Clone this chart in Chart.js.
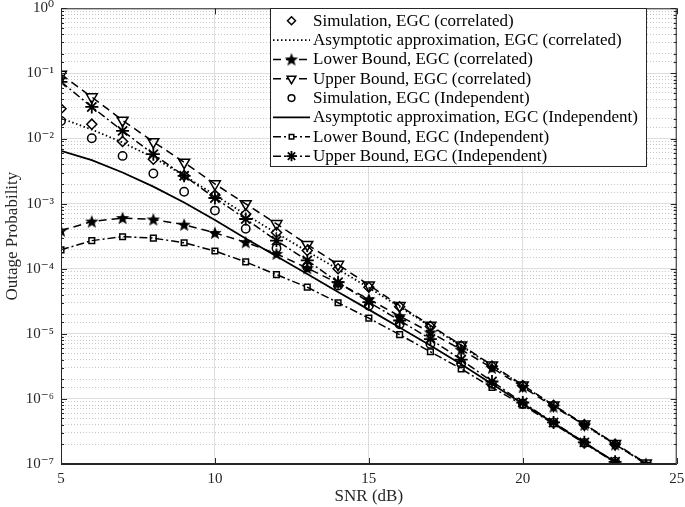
<!DOCTYPE html>
<html>
<head>
<meta charset="utf-8">
<title>Outage Probability vs SNR</title>
<script src="https://cdn.jsdelivr.net/npm/chart.js@4.4.1/dist/chart.umd.min.js"></script>
<style>
    html, body { margin: 0; padding: 0; background: #fff; }
    #wrap { width: 685px; height: 507px; }
</style>
</head>
<body>
<div id="wrap"><canvas id="outageChart" width="685" height="507"></canvas></div>
<script>
/* DATA */
var snr = [5, 6, 7, 8, 9, 10, 11, 12, 13, 14, 15, 16, 17, 18, 19, 20, 21, 22, 23, 24];

var simCorr   = [2.87e-2, 1.66e-2, 9.0e-3, 4.8e-3, 2.7e-3, 1.35e-3, 6.9e-4, 3.6e-4, 1.9e-4, 1.0e-4, 5.2e-5, 2.6e-5, 1.3e-5, 6.5e-6, 3.2e-6, 1.6e-6, 8.0e-7, 4.0e-7, 2.0e-7, null];
var asymCorr  = [2.05e-2, 1.37e-2, 8.7e-3, 5.1e-3, 2.7e-3, 1.35e-3, 6.8e-4, 3.5e-4, 1.85e-4, 9.8e-5, 5.1e-5, 2.6e-5, 1.3e-5, 6.5e-6, 3.2e-6, 1.6e-6, 7.9e-7, 4.0e-7, 2.0e-7, 1.01e-7];
var lbCorr    = [3.85e-4, 5.3e-4, 6.0e-4, 5.7e-4, 4.75e-4, 3.55e-4, 2.55e-4, 1.69e-4, 1.02e-4, 6.0e-5, 3.4e-5, 1.87e-5, 1.05e-5, 5.7e-6, 3.0e-6, 1.52e-6, 7.6e-7, 4.0e-7, 2.0e-7, 1.01e-7];
var ubCorr    = [9.66e-2, 4.34e-2, 1.9e-2, 8.9e-3, 4.3e-3, 2.0e-3, 9.9e-4, 4.9e-4, 2.35e-4, 1.16e-4, 5.6e-5, 2.7e-5, 1.35e-5, 6.7e-6, 3.3e-6, 1.63e-6, 8.0e-7, 4.1e-7, 2.05e-7, 1.03e-7];
var simIndep  = [1.86e-2, 1.01e-2, 5.4e-3, 2.9e-3, 1.52e-3, 7.8e-4, 4.1e-4, 2.06e-4, 1.05e-4, 5.5e-5, 2.7e-5, 1.4e-5, 7.0e-6, 3.5e-6, 1.7e-6, 8.5e-7, 4.3e-7, 2.1e-7, 1.08e-7, null];
var asymIndep = [6.46e-3, 4.65e-3, 3.0e-3, 1.82e-3, 1.04e-3, 5.6e-4, 2.9e-4, 1.55e-4, 8.3e-5, 4.4e-5, 2.35e-5, 1.25e-5, 6.6e-6, 3.4e-6, 1.7e-6, 8.4e-7, 4.25e-7, 2.12e-7, 1.07e-7, null];
var lbIndep   = [1.95e-4, 2.7e-4, 3.1e-4, 2.95e-4, 2.5e-4, 1.87e-4, 1.27e-4, 8.1e-5, 5.2e-5, 3.0e-5, 1.74e-5, 9.7e-6, 5.3e-6, 2.9e-6, 1.5e-6, 8.0e-7, 4.15e-7, 2.08e-7, 1.05e-7, null];
var ubIndep   = [7.43e-2, 3.05e-2, 1.31e-2, 5.75e-3, 2.67e-3, 1.22e-3, 5.8e-4, 2.7e-4, 1.34e-4, 6.2e-5, 3.07e-5, 1.6e-5, 8.3e-6, 4.0e-6, 1.85e-6, 8.8e-7, 4.35e-7, 2.15e-7, 1.08e-7, null];

var seriesLabels = [
    "Simulation, EGC (correlated)",
    "Asymptotic approximation, EGC (correlated)",
    "Lower Bound, EGC (correlated)",
    "Upper Bound, EGC (correlated)",
    "Simulation, EGC (Independent)",
    "Asymptotic approximation, EGC (Independent)",
    "Lower Bound, EGC (Independent)",
    "Upper Bound, EGC (Independent)"
];
var xTicks = [5, 10, 15, 20, 25];

/* HELPERS */
var SERIF = '"Liberation Serif", "DejaVu Serif", serif';
var INK = "#262626";

function pts(ys) {
    return snr.map(function(x, i) {
        return { x: x, y: ys[i] };
    }).filter(function(p) { return p.y != null; });
}

// filled five-point star (MATLAB 'p' marker)
function makePentagram(r) {
    var size = Math.ceil(r * 2) + 2;
    var c = document.createElement("canvas");
    c.width = size;
    c.height = size;
    var g = c.getContext("2d");
    g.translate(size / 2, size / 2 + 0.5);
    g.beginPath();
    for (var i = 0; i < 10; i++) {
        var rr = i % 2 === 0 ? r : r * 0.42;
        var a = -Math.PI / 2 + i * Math.PI / 5;
        g.lineTo(rr * Math.cos(a), rr * Math.sin(a));
    }
    g.closePath();
    g.fillStyle = "#000";
    g.fill();
    return c;
}
var starImg = makePentagram(7);

var SUP = { "-": "\u207B", "0": "\u2070", "1": "\u00B9", "2": "\u00B2", "3": "\u00B3",
            "4": "\u2074", "5": "\u2075", "6": "\u2076", "7": "\u2077", "8": "\u2078", "9": "\u2079" };
function powLabel(e) {
    return "10" + String(e).split("").map(function(ch) { return SUP[ch]; }).join("");
}
function isDecade(v) {
    var e = Math.log10(v);
    return Math.abs(e - Math.round(e)) < 1e-6;
}

var DASH = [8, 5];
var DASHDOT = [8, 3, 2, 3];
var DOT = [1.5, 2.5];

function ds(i, ys, extra) {
    var base = {
        label: seriesLabels[i],
        data: pts(ys),
        borderColor: "#000",
        backgroundColor: "rgba(0,0,0,0)",
        borderWidth: 1.5,
        pointBorderColor: "#000",
        pointBackgroundColor: "rgba(0,0,0,0)",
        pointBorderWidth: 1.5,
        pointRadius: 0,
        tension: 0,
        fill: false
    };
    for (var k in extra) base[k] = extra[k];
    return base;
}

var datasets = [
    ds(0, simCorr,   { showLine: false, pointStyle: "rectRot", pointRadius: 5 }),
    ds(1, asymCorr,  { borderDash: DOT, borderWidth: 1.8 }),
    ds(2, lbCorr,    { borderDash: DASH, pointStyle: starImg, pointRadius: 6 }),
    ds(3, ubCorr,    { borderDash: DASH, pointStyle: "triangle", pointRotation: 180, pointRadius: 6.3 }),
    ds(4, simIndep,  { showLine: false, pointStyle: "circle", pointRadius: 4.2 }),
    ds(5, asymIndep, { borderWidth: 1.8 }),
    ds(6, lbIndep,   { borderDash: DASHDOT, pointStyle: "rect", pointRadius: 4 }),
    ds(7, ubIndep,   { borderDash: DASHDOT, pointStyle: "star", pointRadius: 6.5, pointBorderWidth: 1.8 })
];

/* BOX + INWARD TICKS */
var boxPlugin = {
    id: "matlabBox",
    afterDatasetsDraw: function(chart) {
        var a = chart.chartArea, ctx = chart.ctx;
        var xs = chart.scales.x, ys = chart.scales.y;
        ctx.save();
        ctx.strokeStyle = INK;
        ctx.lineWidth = 1;
        ctx.strokeRect(a.left + 0.5, a.top + 0.5, a.right - a.left - 1, a.bottom - a.top - 1);
        ctx.beginPath();
        xTicks.forEach(function(v) {
            var px = Math.round(xs.getPixelForValue(v)) + 0.5;
            ctx.moveTo(px, a.bottom); ctx.lineTo(px, a.bottom - 6);
            ctx.moveTo(px, a.top); ctx.lineTo(px, a.top + 6);
        });
        ys.ticks.forEach(function(t) {
            var py = Math.round(ys.getPixelForValue(t.value)) + 0.5;
            var len = isDecade(t.value) ? 6 : 3;
            ctx.moveTo(a.left, py); ctx.lineTo(a.left + len, py);
            ctx.moveTo(a.right, py); ctx.lineTo(a.right - len, py);
        });
        ctx.stroke();
        ctx.restore();
    }
};

/* LEGEND (line sample + marker, like the original) */
var legendPlugin = {
    id: "lineLegend",
    afterDraw: function(chart) {
        var ctx = chart.ctx;
        var bx = 270, by = 8, bw = 376, bh = 158;
        var rowH = 19.35, y0 = 20.7;
        ctx.save();
        ctx.fillStyle = "#fff";
        ctx.fillRect(bx, by, bw, bh);
        ctx.strokeStyle = INK;
        ctx.lineWidth = 1;
        ctx.strokeRect(bx + 0.5, by + 0.5, bw, bh);
        chart.data.datasets.forEach(function(d, i) {
            var y = y0 + i * rowH;
            if (d.showLine !== false) {
                ctx.save();
                ctx.strokeStyle = "#000";
                ctx.lineWidth = d.borderWidth;
                ctx.setLineDash(d.borderDash || []);
                ctx.beginPath();
                ctx.moveTo(273, y);
                ctx.lineTo(310, y);
                ctx.stroke();
                ctx.restore();
            }
            if (d.pointStyle && d.pointRadius > 0) {
                ctx.save();
                ctx.strokeStyle = "#000";
                ctx.fillStyle = "#fff";
                ctx.lineWidth = d.pointBorderWidth || 1.5;
                Chart.helpers.drawPoint(ctx, {
                    pointStyle: d.pointStyle,
                    rotation: d.pointRotation || 0,
                    radius: d.pointRadius * 0.8,
                    borderWidth: ctx.lineWidth
                }, 291.5, y);
                ctx.restore();
            }
            ctx.fillStyle = "#000";
            ctx.font = "17px " + SERIF;
            ctx.textBaseline = "middle";
            ctx.textAlign = "left";
            ctx.fillText(d.label, 313, y + 0.5);
        });
        ctx.restore();
    }
};

Chart.defaults.font.family = SERIF;
Chart.defaults.color = INK;

var chart = new Chart(document.getElementById("outageChart"), {
    type: "line",
    data: { datasets: datasets },
    options: {
        responsive: false,
        animation: false,
        events: [],
        layout: { padding: { top: 7, right: 6, left: 0, bottom: 0 } },
        plugins: {
            legend: { display: false },
            tooltip: { enabled: false }
        },
        scales: {
            x: {
                type: "linear",
                min: 5,
                max: 25,
                afterFit: function(s) {
                    s.height = 43;
                    s.paddingLeft = 0; s.paddingRight = 0;
                },
                afterBuildTicks: function(s) {
                    s.ticks = xTicks.map(function(v) { return { value: v }; });
                },
                ticks: { font: { size: 15 }, padding: 6, maxRotation: 0, autoSkip: false },
                grid: { color: "#dedede", lineWidth: 1, drawTicks: false },
                border: { color: INK },
                title: { display: true, text: "SNR (dB)", font: { size: 17 }, padding: { top: 0, bottom: 0 } }
            },
            y: {
                type: "logarithmic",
                min: 1e-7,
                max: 1,
                afterFit: function(s) {
                    s.width = 61;
                    s.paddingTop = 0; s.paddingBottom = 0;
                },
                ticks: {
                    font: { size: 15 },
                    padding: 7,
                    autoSkip: false,
                    callback: function(v) {
                        return isDecade(v) ? powLabel(Math.round(Math.log10(v))) : "";
                    }
                },
                grid: {
                    drawTicks: false,
                    lineWidth: 1,
                    color: function(c) {
                        return c.tick && !isDecade(c.tick.value) ? "#c8c8c8" : "#dedede";
                    }
                },
                border: {
                    color: INK,
                    dash: function(c) {
                        return c.tick && !isDecade(c.tick.value) ? [1, 2] : [];
                    }
                },
                title: { display: true, text: "Outage Probability", font: { size: 17 }, padding: { top: 2, bottom: 0 } }
            }
        }
    },
    plugins: [boxPlugin, legendPlugin]
});
</script>
</body>
</html>
